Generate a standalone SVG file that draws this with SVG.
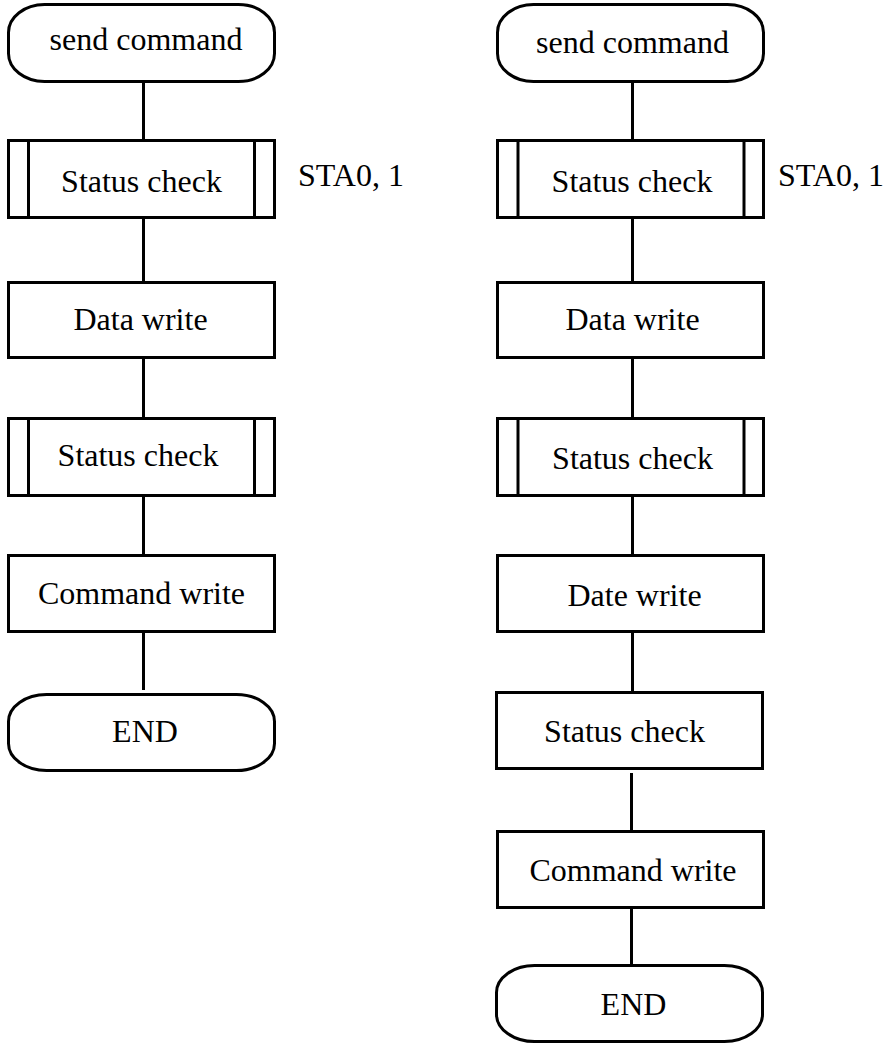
<svg xmlns="http://www.w3.org/2000/svg" width="883" height="1043" viewBox="0 0 883 1043">
<style>
.s{fill:#fff;stroke:#000;stroke-width:3}
.c{stroke:#000;stroke-width:3;fill:none}
text{font-family:"Liberation Serif","Times New Roman",serif;font-size:32px;fill:#000}
.m{text-anchor:middle}
</style>
<rect width="883" height="1043" fill="#fff"/>
<g id="connectors">
<line class="c" x1="143.5" y1="82" x2="143.5" y2="140"/>
<line class="c" x1="143.5" y1="218" x2="143.5" y2="282"/>
<line class="c" x1="143.5" y1="357" x2="143.5" y2="418"/>
<line class="c" x1="143.5" y1="496" x2="143.5" y2="555"/>
<line class="c" x1="143.5" y1="631" x2="143.5" y2="690"/>
<line class="c" x1="632.5" y1="81" x2="632.5" y2="140"/>
<line class="c" x1="632.5" y1="218" x2="632.5" y2="282"/>
<line class="c" x1="632.5" y1="357" x2="632.5" y2="418"/>
<line class="c" x1="632.5" y1="496" x2="632.5" y2="555"/>
<line class="c" x1="632.5" y1="632" x2="632.5" y2="692"/>
<line class="c" x1="631.5" y1="773" x2="631.5" y2="831"/>
<line class="c" x1="631.5" y1="908" x2="631.5" y2="966"/>
</g>
<g id="L1"><rect class="s" x="8.5" y="4.5" width="266" height="77" rx="36" ry="28"/><text class="m" x="146" y="50">send command</text></g>
<g id="L2"><rect class="s" x="8.5" y="140.5" width="266" height="77"/><line class="c" x1="28.5" y1="140" x2="28.5" y2="218"/><line class="c" x1="254.5" y1="140" x2="254.5" y2="218"/><text class="m" x="141.5" y="192">Status check</text></g>
<g id="L2note"><text x="298" y="186">STA0, 1</text></g>
<g id="L3"><rect class="s" x="8.5" y="282.5" width="266" height="75"/><text class="m" x="140.5" y="330">Data write</text></g>
<g id="L4"><rect class="s" x="8.5" y="418.5" width="266" height="77"/><line class="c" x1="28.5" y1="418" x2="28.5" y2="496"/><line class="c" x1="254.5" y1="418" x2="254.5" y2="496"/><text class="m" x="138" y="466">Status check</text></g>
<g id="L5"><rect class="s" x="8.5" y="555.5" width="266" height="76"/><text class="m" x="141.5" y="604">Command write</text></g>
<g id="L6"><rect class="s" x="8.5" y="694.5" width="266" height="76" rx="38" ry="27"/><text class="m" x="145" y="742">END</text></g>
<g id="R1"><rect class="s" x="497.5" y="4.5" width="266" height="77" rx="36" ry="28"/><text class="m" x="632.5" y="53">send command</text></g>
<g id="R2"><rect class="s" x="497.5" y="140.5" width="266" height="77"/><line class="c" x1="518" y1="140" x2="518" y2="218"/><line class="c" x1="744" y1="140" x2="744" y2="218"/><text class="m" x="632" y="192">Status check</text></g>
<g id="R2note"><text x="778" y="186">STA0, 1</text></g>
<g id="R3"><rect class="s" x="497.5" y="282.5" width="266" height="75"/><text class="m" x="632.5" y="330">Data write</text></g>
<g id="R4"><rect class="s" x="497.5" y="418.5" width="266" height="77"/><line class="c" x1="518" y1="418" x2="518" y2="496"/><line class="c" x1="744" y1="418" x2="744" y2="496"/><text class="m" x="632.5" y="469">Status check</text></g>
<g id="R5"><rect class="s" x="497.5" y="555.5" width="266" height="76"/><text class="m" x="634.5" y="606">Date write</text></g>
<g id="R6"><rect class="s" x="496.5" y="692.5" width="266" height="76"/><text class="m" x="624.5" y="742">Status check</text></g>
<g id="R7"><rect class="s" x="497.5" y="831.5" width="266" height="76"/><text class="m" x="633" y="881">Command write</text></g>
<g id="R8"><rect class="s" x="496.5" y="965.5" width="266" height="76" rx="38" ry="27"/><text class="m" x="633.5" y="1015">END</text></g>
</svg>
